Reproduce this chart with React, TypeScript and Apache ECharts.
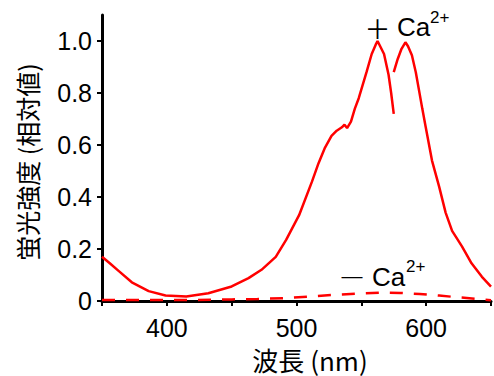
import React, { useEffect, useRef } from "react";
import * as echarts from "echarts";

// +Ca2+ spectrum, first segment
const plusSeg1Wavelength = [350, 356, 363, 373, 386, 399, 415, 432, 450, 463, 473, 484, 492, 502, 512, 517, 522, 527, 531, 535, 537, 539, 542, 545, 548, 551, 554, 558, 561, 562.5, 565, 567.5, 571, 573, 575];
const plusSeg1Intensity = [0.17, 0.145, 0.115, 0.072, 0.038, 0.021, 0.017, 0.03, 0.056, 0.088, 0.12, 0.17, 0.235, 0.33, 0.46, 0.53, 0.59, 0.635, 0.655, 0.668, 0.678, 0.665, 0.69, 0.74, 0.78, 0.83, 0.88, 0.95, 0.985, 1.0, 0.975, 0.95, 0.87, 0.8, 0.72];
// +Ca2+ spectrum, second segment
const plusSeg2Wavelength = [575, 578, 581, 584, 586, 589, 592, 594.5, 597, 599.6, 604.5, 610, 615, 620, 627.6, 635, 643, 650];
const plusSeg2Intensity = [0.88, 0.93, 0.97, 0.995, 0.98, 0.945, 0.88, 0.81, 0.74, 0.67, 0.54, 0.44, 0.34, 0.27, 0.21, 0.145, 0.093, 0.055];
// -Ca2+ spectrum
const minusWavelength = [350, 380, 420, 450, 470, 490, 510, 530, 550, 565, 580, 595, 610, 625, 640, 650];
const minusIntensity = [0.004, 0.004, 0.004, 0.006, 0.008, 0.011, 0.017, 0.024, 0.029, 0.032, 0.031, 0.027, 0.021, 0.014, 0.008, 0.003];

const xLabels = [400, 500, 600];
const yLabels = [0, 0.2, 0.4, 0.6, 0.8, 1.0];

const xTitle = "波長 (nm)";
const yTitle = "蛍光強度 (相対値)";

const zip = (xs: number[], ys: number[]) => xs.map((x, i) => [x, ys[i]]);

const LATIN = "'Liberation Sans', Arial, sans-serif";
const CJK = "'Noto Sans CJK JP', 'Liberation Sans', sans-serif";

export default function App() {
  const ref = useRef<HTMLDivElement>(null);
  useEffect(() => {
    if (!ref.current) return;
    const chart = echarts.init(ref.current, null, { renderer: "svg" });
    const red = "#ff0000";
    chart.setOption({
      animation: false,
      backgroundColor: "#ffffff",
      grid: { left: 102, right: 2, top: 15, bottom: 75, containLabel: false },
      xAxis: {
        type: "value",
        min: 350,
        max: 650,
        interval: 50,
        axisLine: { onZero: false, lineStyle: { color: "#000", width: 3 } },
        axisTick: { show: true, inside: false, length: 5, lineStyle: { color: "#000", width: 2 } },
        splitLine: { show: false },
        axisLabel: {
          color: "#000",
          fontFamily: LATIN,
          fontSize: 25,
          margin: 14,
          formatter: (v: number) => (xLabels.includes(v) ? String(v) : ""),
        },
      },
      yAxis: {
        type: "value",
        min: 0,
        max: 1.1,
        interval: 0.2,
        axisLine: { show: true, onZero: false, lineStyle: { color: "#000", width: 3 } },
        axisTick: { show: true, inside: false, length: 5, lineStyle: { color: "#000", width: 2 } },
        splitLine: { show: false },
        axisLabel: {
          color: "#000",
          fontFamily: LATIN,
          fontSize: 25,
          margin: 10,
          showMaxLabel: false,
          formatter: (v: number) => {
            const m = yLabels.find((y) => Math.abs(y - v) < 1e-6);
            if (m === undefined) return "";
            return m === 0 ? "0" : m.toFixed(1);
          },
        },
      },
      series: [
        {
          type: "line",
          data: zip(plusSeg1Wavelength, plusSeg1Intensity),
          showSymbol: false,
          smooth: false,
          lineStyle: { color: red, width: 2.5 },
        },
        {
          type: "line",
          data: zip(plusSeg2Wavelength, plusSeg2Intensity),
          showSymbol: false,
          lineStyle: { color: red, width: 2.5 },
        },
        {
          type: "line",
          data: zip(minusWavelength, minusIntensity),
          showSymbol: false,
          lineStyle: { color: red, width: 2.5, type: [13, 11] },
        },
      ],
      graphic: [
        {
          type: "text",
          x: 310,
          y: 359,
          style: { text: xTitle, font: `26px ${CJK}`, lineHeight: 28, fill: "#000", align: "center", verticalAlign: "middle" },
        },
        {
          type: "text",
          x: 27,
          y: 162,
          rotation: Math.PI / 2,
          style: { text: yTitle, font: `25px ${CJK}`, fill: "#000", align: "center", verticalAlign: "middle" },
        },
        // + Ca2+
        {
          type: "text",
          x: 377.5,
          y: 27,
          style: { text: "＋", font: `26px ${CJK}`, fill: "#000", align: "center", verticalAlign: "middle" },
        },
        {
          type: "text",
          x: 397,
          y: 27,
          style: { text: "Ca", font: `26px ${LATIN}`, fill: "#000", align: "left", verticalAlign: "middle" },
        },
        {
          type: "text",
          x: 430,
          y: 17,
          style: { text: "2+", font: `17px ${LATIN}`, fill: "#000", align: "left", verticalAlign: "middle" },
        },
        // - Ca2+
        {
          type: "text",
          x: 352,
          y: 275,
          style: { text: "—", font: `21px ${LATIN}`, fill: "#000", align: "center", verticalAlign: "middle" },
        },
        {
          type: "text",
          x: 372,
          y: 277,
          style: { text: "Ca", font: `26px ${LATIN}`, fill: "#000", align: "left", verticalAlign: "middle" },
        },
        {
          type: "text",
          x: 406,
          y: 266,
          style: { text: "2+", font: `17px ${LATIN}`, fill: "#000", align: "left", verticalAlign: "middle" },
        },
      ],
    });
    return () => chart.dispose();
  }, []);
  return <div ref={ref} style={{ width: 494, height: 376, position: "absolute", left: 0, top: 0 }} />;
}
